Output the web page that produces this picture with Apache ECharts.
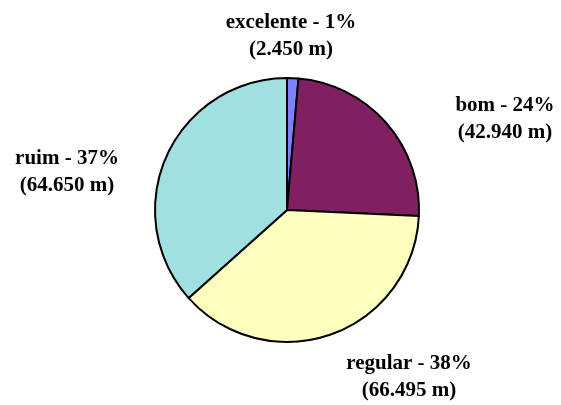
<!DOCTYPE html>
<html>
<head>
<meta charset="utf-8">
<script src="https://cdn.jsdelivr.net/npm/echarts@6/dist/echarts.min.js"></script>
<style>
  html, body { margin: 0; padding: 0; background: #ffffff; }
  #chart { width: 561px; height: 405px; }
</style>
</head>
<body>
<div id="chart"></div>
<script>
// Road condition shares (length in metres)
const categories = ['excelente', 'bom', 'regular', 'ruim'];
const lengths = [2450, 42940, 66495, 64650];
const sliceColors = ['#8080FF', '#802060', '#FFFFC0', '#A0E0E0'];

// Label centres for each slice's caption
const labelCentres = [[291, 36], [505, 119], [409, 377], [67, 172]];

function formatThousands(v) {
  return String(v).replace(/\B(?=(\d{3})+(?!\d))/g, '.');
}

const total = lengths.reduce((a, b) => a + b, 0);

const chart = echarts.init(document.getElementById('chart'), null, { renderer: 'canvas' });
chart.setOption({
  backgroundColor: '#ffffff',
  animation: false,
  series: [{
    type: 'pie',
    center: [287, 210],
    radius: 132,
    startAngle: 90,
    clockwise: true,
    data: categories.map((name, i) => ({
      name: name,
      value: lengths[i],
      itemStyle: { color: sliceColors[i] }
    })),
    itemStyle: { borderColor: '#000000', borderWidth: 2 },
    emphasis: { disabled: true },
    label: {
      show: true,
      position: 'outside',
      fontFamily: '"Liberation Serif", "Times New Roman", serif',
      fontWeight: 'bold',
      fontSize: 21,
      lineHeight: 27,
      color: '#000000',
      align: 'center',
      formatter: function (p) {
        const pct = Math.round(p.value / total * 100);
        return p.name + ' - ' + pct + '%\n(' + formatThousands(p.value) + ' m)';
      }
    },
    labelLine: { show: false },
    labelLayout: function (params) {
      const c = labelCentres[params.dataIndex];
      return { x: c[0], y: c[1], align: 'center', verticalAlign: 'middle' };
    }
  }]
});
</script>
</body>
</html>
